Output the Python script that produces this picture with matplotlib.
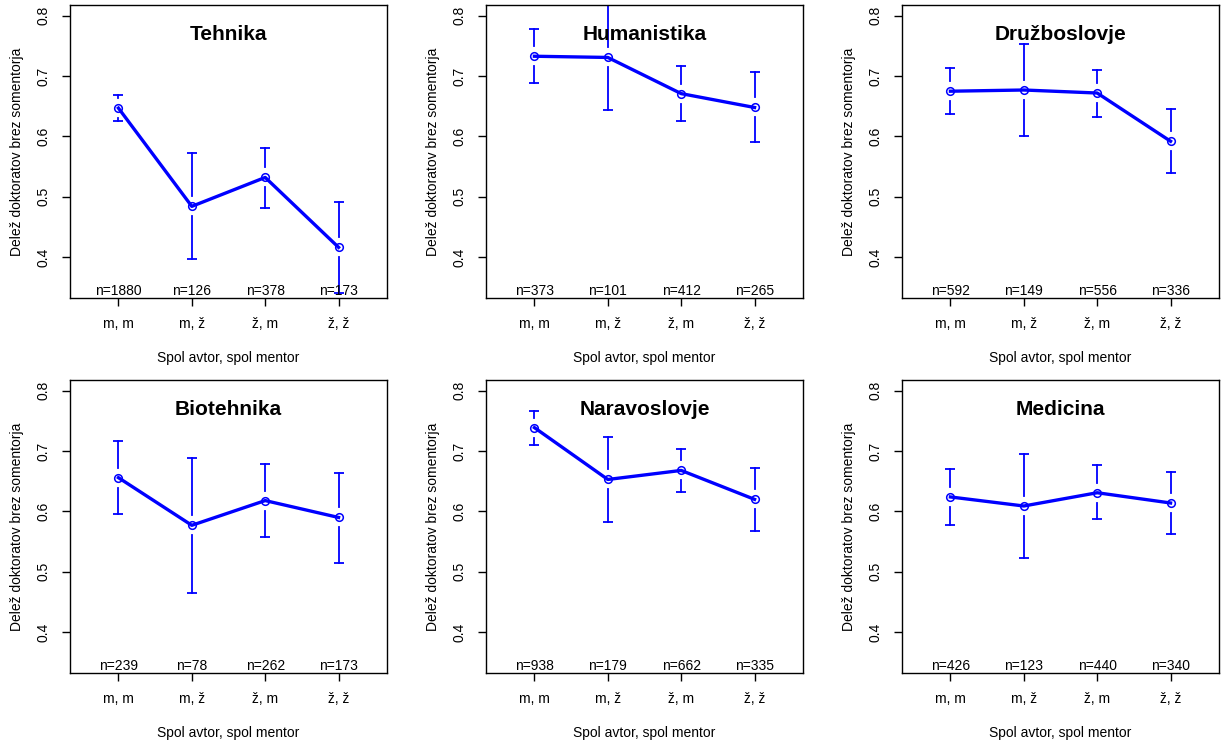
import numpy as np
import matplotlib
matplotlib.use("Agg")
import matplotlib.pyplot as plt

plt.rcParams['font.family'] = ['Liberation Sans', 'DejaVu Sans']

categories = ["m, m", "m, ž", "ž, m", "ž, ž"]
fields = ["Tehnika", "Humanistika", "Družboslovje", "Biotehnika", "Naravoslovje", "Medicina"]

tehnika_mean = [0.647, 0.484, 0.532, 0.416]
tehnika_lo = [0.626, 0.396, 0.481, 0.341]
tehnika_hi = [0.669, 0.572, 0.581, 0.491]
tehnika_n = [1880, 126, 378, 173]

humanistika_mean = [0.733, 0.731, 0.671, 0.648]
humanistika_lo = [0.689, 0.644, 0.626, 0.590]
humanistika_hi = [0.778, 0.825, 0.717, 0.707]
humanistika_n = [373, 101, 412, 265]

druzboslovje_mean = [0.675, 0.677, 0.672, 0.592]
druzboslovje_lo = [0.637, 0.601, 0.633, 0.539]
druzboslovje_hi = [0.713, 0.753, 0.711, 0.645]
druzboslovje_n = [592, 149, 556, 336]

biotehnika_mean = [0.656, 0.577, 0.618, 0.590]
biotehnika_lo = [0.596, 0.465, 0.558, 0.515]
biotehnika_hi = [0.717, 0.689, 0.678, 0.664]
biotehnika_n = [239, 78, 262, 173]

naravoslovje_mean = [0.739, 0.653, 0.668, 0.620]
naravoslovje_lo = [0.711, 0.583, 0.633, 0.568]
naravoslovje_hi = [0.767, 0.724, 0.704, 0.672]
naravoslovje_n = [938, 179, 662, 335]

medicina_mean = [0.624, 0.609, 0.631, 0.614]
medicina_lo = [0.578, 0.522, 0.587, 0.562]
medicina_hi = [0.670, 0.696, 0.677, 0.666]
medicina_n = [426, 123, 440, 340]

panels = [
    (tehnika_mean, tehnika_lo, tehnika_hi, tehnika_n),
    (humanistika_mean, humanistika_lo, humanistika_hi, humanistika_n),
    (druzboslovje_mean, druzboslovje_lo, druzboslovje_hi, druzboslovje_n),
    (biotehnika_mean, biotehnika_lo, biotehnika_hi, biotehnika_n),
    (naravoslovje_mean, naravoslovje_lo, naravoslovje_hi, naravoslovje_n),
    (medicina_mean, medicina_lo, medicina_hi, medicina_n),
]

blue = "#0000FF"
ylim = (0.332, 0.818)
xlim = (0.34, 4.66)
gap = 0.0166

fig = plt.figure(figsize=(12.25, 7.45), dpi=100)
lefts = [70 / 1225, 486 / 1225, 902 / 1225]
bottoms = [1 - 298 / 745, 1 - 673 / 745]
w = 317 / 1225
h = 293 / 745

for i, (title, (mean, lo, hi, n)) in enumerate(zip(fields, panels)):
    ax = fig.add_axes([lefts[i % 3], bottoms[i // 3], w, h])
    x = np.arange(1, len(categories) + 1)
    mean = np.array(mean)
    lo = np.array(lo)
    hi = np.array(hi)

    # error bars with a gap around the point
    for xi, m, l, u in zip(x, mean, lo, hi):
        if u - m > gap:
            ax.plot([xi, xi], [m + gap, u], color=blue, lw=1.3)
        if m - l > gap:
            ax.plot([xi, xi], [l, m - gap], color=blue, lw=1.3)
    ax.plot(x, hi, ls="none", marker="_", ms=7, mew=1.3, color=blue)
    ax.plot(x, lo, ls="none", marker="_", ms=7, mew=1.3, color=blue)

    ax.plot(x, mean, color=blue, lw=2.4, marker="o", ms=5.5,
            mfc="none", mec=blue, mew=1.1)

    for xi, ni in zip(x, n):
        ax.annotate("n=%d" % ni, xy=(xi, 0), xycoords=("data", "axes fraction"),
                    ha="center", va="bottom", fontsize=10)

    ax.text(0.5, 0.9, title, transform=ax.transAxes, ha="center", va="center",
            fontsize=15, fontweight="bold")

    ax.set_xlim(xlim)
    ax.set_ylim(ylim)
    ax.set_xticks(x)
    ax.set_xticklabels(categories)
    ax.set_yticks([0.4, 0.5, 0.6, 0.7, 0.8])
    ax.set_yticklabels(["0.4", "0.5", "0.6", "0.7", "0.8"], rotation=90, va="center")
    ax.tick_params(length=6, width=1, labelsize=10, pad=8)
    ax.set_xlabel("Spol avtor, spol mentor", fontsize=10, labelpad=14)
    ax.set_ylabel("Delež doktoratov brez somentorja", fontsize=10, labelpad=9)
    for s in ax.spines.values():
        s.set_linewidth(1)

fig.savefig("out.png", dpi=100)
